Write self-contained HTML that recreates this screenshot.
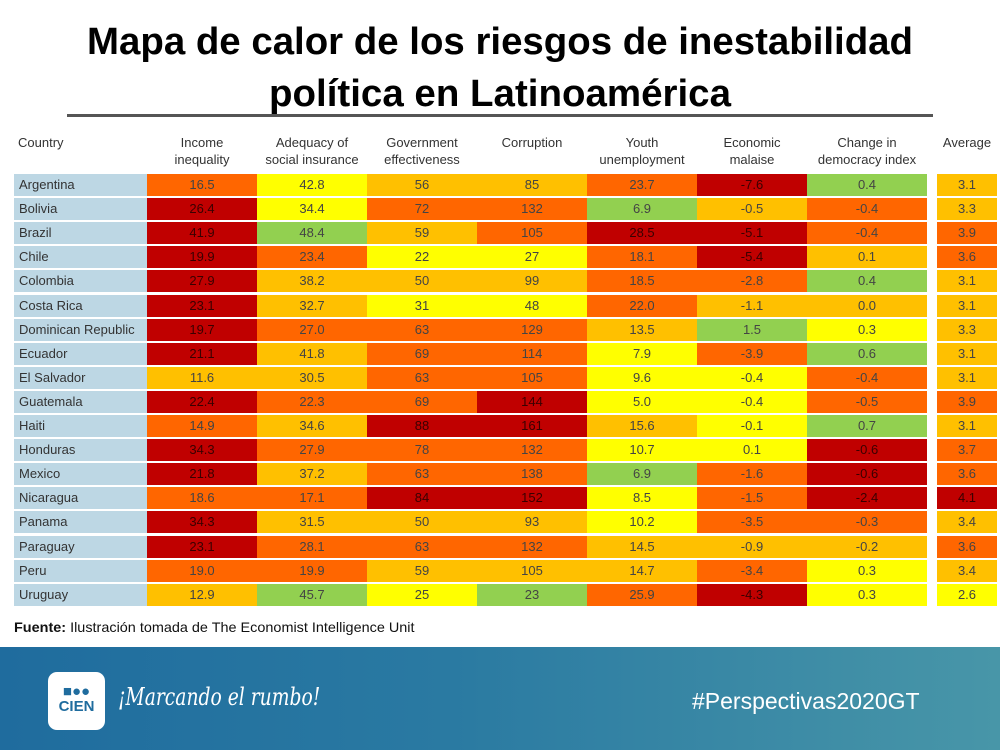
<!DOCTYPE html>
<html><head><meta charset="utf-8"><style>
body{margin:0;width:1000px;height:750px;overflow:hidden;background:#fff;font-family:"Liberation Sans",sans-serif;position:relative}
.abs{position:absolute}
.hdr{position:absolute;top:134px;font-size:13px;color:#333;text-align:center;line-height:17px}
.cell{position:absolute;height:22px;line-height:22px;font-size:13px;color:#444;text-align:center}
</style></head><body>
<svg class="abs" style="left:0;top:0" width="1000" height="125">
<text x="500" y="54" text-anchor="middle" font-family="Liberation Sans, sans-serif" font-weight="bold" font-size="38" textLength="826" lengthAdjust="spacingAndGlyphs" fill="#000">Mapa de calor de los riesgos de inestabilidad</text>
<text x="500" y="106" text-anchor="middle" font-family="Liberation Sans, sans-serif" font-weight="bold" font-size="38" textLength="462" lengthAdjust="spacingAndGlyphs" fill="#000">política en Latinoamérica</text>
<rect x="67" y="114" width="866" height="3" fill="#555"/>
</svg>
<div id="tbl"></div>
<div class="abs" style="left:14px;top:619px;font-size:14px;color:#111;transform:scaleX(1.03);transform-origin:left"><b>Fuente:</b> Ilustración tomada de The Economist Intelligence Unit</div>
<div class="abs" style="left:0;top:647px;width:1000px;height:103px;background:linear-gradient(90deg,#1f6c9e 0%,#2a7aa2 45%,#4896a8 100%)"></div>
<div class="abs" style="left:48px;top:672px;width:57px;height:58px;background:#fff;border-radius:9px;color:#1f6c9e;font-weight:bold;font-size:15px;line-height:15px;text-align:center;padding-top:12px;box-sizing:border-box">■●●<br>CIEN</div>
<div class="abs" style="left:118px;top:683px;color:#fff;font-family:'DejaVu Serif',serif;font-style:italic;font-size:24px;transform:scaleX(0.78);transform-origin:left">¡Marcando el rumbo!</div>
<div class="abs" style="left:692px;top:688px;color:#fff;font-size:23px">#Perspectivas2020GT</div>
<script>
const countries=["Argentina","Bolivia","Brazil","Chile","Colombia","Costa Rica","Dominican Republic","Ecuador","El Salvador","Guatemala","Haiti","Honduras","Mexico","Nicaragua","Panama","Paraguay","Peru","Uruguay"];
const headers=["Income<br>inequality","Adequacy of<br>social insurance","Government<br>effectiveness","Corruption","Youth<br>unemployment","Economic<br>malaise","Change in<br>democracy index","Average"];
const incomeIneq=["16.5","26.4","41.9","19.9","27.9","23.1","19.7","21.1","11.6","22.4","14.9","34.3","21.8","18.6","34.3","23.1","19.0","12.9"];
const socialIns=["42.8","34.4","48.4","23.4","38.2","32.7","27.0","41.8","30.5","22.3","34.6","27.9","37.2","17.1","31.5","28.1","19.9","45.7"];
const govEff=["56","72","59","22","50","31","63","69","63","69","88","78","63","84","50","63","59","25"];
const corruption=["85","132","105","27","99","48","129","114","105","144","161","132","138","152","93","132","105","23"];
const youthUnemp=["23.7","6.9","28.5","18.1","18.5","22.0","13.5","7.9","9.6","5.0","15.6","10.7","6.9","8.5","10.2","14.5","14.7","25.9"];
const econMalaise=["-7.6","-0.5","-5.1","-5.4","-2.8","-1.1","1.5","-3.9","-0.4","-0.4","-0.1","0.1","-1.6","-1.5","-3.5","-0.9","-3.4","-4.3"];
const demChange=["0.4","-0.4","-0.4","0.1","0.4","0.0","0.3","0.6","-0.4","-0.5","0.7","-0.6","-0.6","-2.4","-0.3","-0.2","0.3","0.3"];
const average=["3.1","3.3","3.9","3.6","3.1","3.1","3.3","3.1","3.1","3.9","3.1","3.7","3.6","4.1","3.4","3.6","3.4","2.6"];
// risk levels: R=high, O, A, Y, G=low
const levels=["OYAAORGA","RYOOGAOA","RGAORROO","ROYYORAO","RAAAOOGA","RAYYOAAA","ROOOAGYA","RAOOYOGA","AAOOYYOA","ROORYYOO","OARRAYGA","ROOOYYRO","RAOOGORO","OORRYORR","RAAAYOOA","ROOOAAAO","OOAAAOYA","AGYGORYY"];
const colorOf={R:"#c00000",O:"#ff6600",A:"#ffc000",Y:"#ffff00",G:"#92d050"};
const series=[incomeIneq,socialIns,govEff,corruption,youthUnemp,econMalaise,demChange,average];
const colX=[147,257,367,477,587,697,807,937],colW=[110,110,110,110,110,110,120,60];
const tbl=document.getElementById('tbl');
const h0=document.createElement('div');h0.className='hdr';h0.style.left='18px';h0.style.textAlign='left';h0.textContent='Country';


tbl.appendChild(h0);
headers.forEach((t,i)=>{const d=document.createElement('div');d.className='hdr';d.style.left=(colX[i]-5)+'px';d.style.width=(colW[i]+10)+'px';d.innerHTML=t;


tbl.appendChild(d);});
countries.forEach((c,r)=>{const y=174+r*24.1;
const d=document.createElement('div');d.className='cell';d.style.left='14px';d.style.top=y+'px';d.style.width='133px';d.style.background='#bdd7e4';d.style.textAlign='left';d.style.paddingLeft='5px';d.style.boxSizing='border-box';d.style.color='#333';d.textContent=c;


tbl.appendChild(d);
series.forEach((s,i)=>{const e=document.createElement('div');e.className='cell';const lv=levels[r][i];e.style.left=colX[i]+'px';e.style.width=colW[i]+'px';e.style.top=y+'px';e.style.background=colorOf[lv];if(lv==='R')e.style.color='#3a0000';e.textContent=s[r];


tbl.appendChild(e);});});
</script>
</body></html>
